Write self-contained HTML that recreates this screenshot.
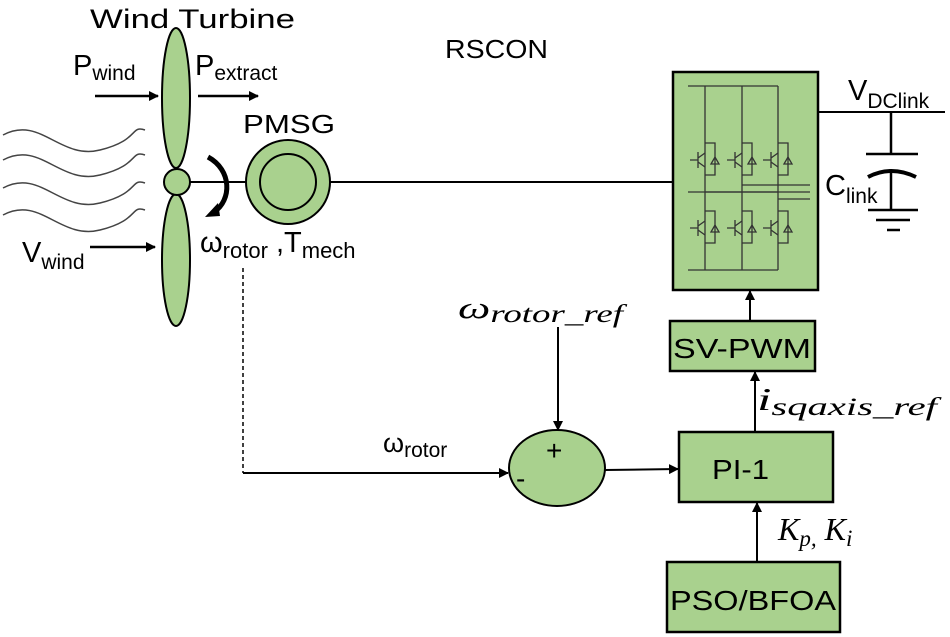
<!DOCTYPE html>
<html><head><meta charset="utf-8"><style>
body{margin:0;background:#fff}
svg{display:block}
text{font-family:"Liberation Sans",sans-serif;fill:#000}
.m{font-family:"Liberation Serif",serif;font-style:italic}
</style></head><body>
<svg width="950" height="637" viewBox="0 0 950 637" xmlns="http://www.w3.org/2000/svg">
<defs><marker id="a" markerWidth="10" markerHeight="10" refX="9" refY="5" orient="auto" markerUnits="userSpaceOnUse"><path d="M0,0 L10,5 L0,10 z" fill="#000"/></marker></defs>
<g fill="none" stroke="#444" stroke-width="1.5">
<path d="M3,135 C40,115 60,160 100,150 S130,125 145,130"/>
<path d="M3,160 C40,140 60,185 100,175 S130,150 145,155"/>
<path d="M3,188 C40,168 60,213 100,203 S130,178 145,183"/>
<path d="M3,215 C40,195 60,240 100,230 S130,205 145,210"/>
</g>
<text x="90" y="28" font-size="27" textLength="205" lengthAdjust="spacingAndGlyphs">Wind Turbine</text>
<text x="73" y="75" font-size="29">P<tspan font-size="21" dy="5">wind</tspan></text>
<text x="195" y="75" font-size="29">P<tspan font-size="21" dy="5">extract</tspan></text>
<line x1="95" y1="96" x2="158" y2="96" stroke="#000" stroke-width="2.5" marker-end="url(#a)"/>
<line x1="198" y1="96" x2="258" y2="96" stroke="#000" stroke-width="2.5" marker-end="url(#a)"/>
<text x="243" y="133" font-size="26" textLength="92" lengthAdjust="spacingAndGlyphs">PMSG</text>
<line x1="190" y1="182" x2="673" y2="182" stroke="#000" stroke-width="2"/>
<g fill="#a9d18e" stroke="#000" stroke-width="2">
<ellipse cx="176" cy="98" rx="14" ry="70"/>
<ellipse cx="176" cy="260" rx="14" ry="66"/>
<circle cx="177" cy="182" r="13"/>
<circle cx="288" cy="182" r="42"/>
<circle cx="288" cy="182" r="28"/>
</g>
<path d="M208,157 C232,170 232,200 214,212" fill="none" stroke="#000" stroke-width="5"/>
<path d="M205,217 L218,203 L220,216 z" fill="#000"/>
<text x="22" y="262" font-size="29">V<tspan font-size="21" dy="7">wind</tspan></text>
<line x1="90" y1="247" x2="155" y2="247" stroke="#000" stroke-width="2.5" marker-end="url(#a)"/>
<text x="200" y="252" font-size="29">ω<tspan font-size="22" dy="6">rotor</tspan><tspan dy="-6"> ,T</tspan><tspan font-size="22" dy="6">mech</tspan></text>
<text x="445" y="58" font-size="26" textLength="103" lengthAdjust="spacingAndGlyphs">RSCON</text>
<!-- converter -->
<rect x="673" y="72" width="145" height="218" fill="#a9d18e" stroke="#000" stroke-width="2.5"/>
<g stroke="#333" stroke-width="1.3" fill="none">
<path d="M688,86 H778 M688,270 H778 M688,192 H778 M705,86 V270 M742,86 V270 M778,86 V270"/>
<path d="M742,185 H810 M705,192 H810 M778,199 H810"/>
<path d="M705,143 h10 v32 h-10 M742,143 h10 v32 h-10 M778,143 h10 v32 h-10"/>
<path d="M705,211 h10 v32 h-10 M742,211 h10 v32 h-10 M778,211 h10 v32 h-10"/>
<path d="M690,160 h8 m0,-8 v16 M698,158 l7,-5 M698,162 l7,5 M727,160 h8 m0,-8 v16 M735,158 l7,-5 M735,162 l7,5 M763,160 h8 m0,-8 v16 M771,158 l7,-5 M771,162 l7,5"/>
<path d="M690,228 h8 m0,-8 v16 M698,226 l7,-5 M698,230 l7,5 M727,228 h8 m0,-8 v16 M735,226 l7,-5 M735,230 l7,5 M763,228 h8 m0,-8 v16 M771,226 l7,-5 M771,230 l7,5"/>
<path d="M711,164 l4,-7 l4,7 z M748,164 l4,-7 l4,7 z M784,164 l4,-7 l4,7 z M711,232 l4,-7 l4,7 z M748,232 l4,-7 l4,7 z M784,232 l4,-7 l4,7 z"/>
</g>
<line x1="818" y1="112" x2="945" y2="112" stroke="#000" stroke-width="2"/>
<text x="848" y="100" font-size="29">V<tspan font-size="21" dy="8">DClink</tspan></text>
<g stroke="#000" stroke-width="2.5" fill="none">
<line x1="891" y1="112" x2="891" y2="154"/>
<line x1="866" y1="154" x2="918" y2="154"/>
<path d="M868,177 Q891,165 916,177" stroke-width="4"/>
<line x1="891" y1="172" x2="891" y2="210"/>
<line x1="868" y1="210" x2="918" y2="210"/>
<line x1="876" y1="220" x2="910" y2="220"/>
<line x1="887" y1="230" x2="900" y2="230"/>
</g>
<text x="825" y="195" font-size="29">C<tspan font-size="21" dy="8">link</tspan></text>
<!-- control -->
<line x1="243" y1="268" x2="243" y2="473" stroke="#000" stroke-width="1.5" stroke-dasharray="4,3"/>
<line x1="243" y1="473" x2="508" y2="473" stroke="#000" stroke-width="2" marker-end="url(#a)"/>
<text x="383" y="452" font-size="27">ω<tspan font-size="21" dy="5">rotor</tspan></text>
<text x="458" y="318" font-size="31" class="m" textLength="165" lengthAdjust="spacingAndGlyphs">ω<tspan font-size="25" dy="4">rotor_ref</tspan></text>
<line x1="558" y1="327" x2="558" y2="430" stroke="#000" stroke-width="2" marker-end="url(#a)"/>
<ellipse cx="557" cy="468" rx="48" ry="38" fill="#a9d18e" stroke="#000" stroke-width="2"/>
<text x="546" y="460" font-size="28">+</text>
<text x="516" y="488" font-size="28">-</text>
<line x1="605" y1="470" x2="678" y2="469" stroke="#000" stroke-width="2" marker-end="url(#a)"/>
<rect x="679" y="432" width="154" height="70" fill="#a9d18e" stroke="#000" stroke-width="2.5"/>
<text x="712" y="479" font-size="28" textLength="57" lengthAdjust="spacingAndGlyphs">PI-1</text>
<rect x="670" y="321" width="145" height="50" fill="#a9d18e" stroke="#000" stroke-width="2.5"/>
<text x="673" y="358" font-size="28" textLength="138" lengthAdjust="spacingAndGlyphs">SV-PWM</text>
<line x1="755" y1="432" x2="755" y2="372" stroke="#000" stroke-width="2" marker-end="url(#a)"/>
<line x1="750" y1="321" x2="750" y2="291" stroke="#000" stroke-width="2" marker-end="url(#a)"/>
<text x="757" y="410" font-size="32" class="m" textLength="180" lengthAdjust="spacingAndGlyphs">i<tspan font-size="25" dy="5">sqaxis_ref</tspan></text>
<rect x="667" y="562" width="173" height="70" fill="#a9d18e" stroke="#000" stroke-width="2.5"/>
<text x="670" y="610" font-size="28" textLength="166" lengthAdjust="spacingAndGlyphs">PSO/BFOA</text>
<line x1="757" y1="562" x2="757" y2="503" stroke="#000" stroke-width="2" marker-end="url(#a)"/>
<text x="778" y="540" font-size="32" class="m">K<tspan font-size="23" dy="6">p,</tspan><tspan dy="-6"> K</tspan><tspan font-size="23" dy="6">i</tspan></text>
</svg>
</body></html>
